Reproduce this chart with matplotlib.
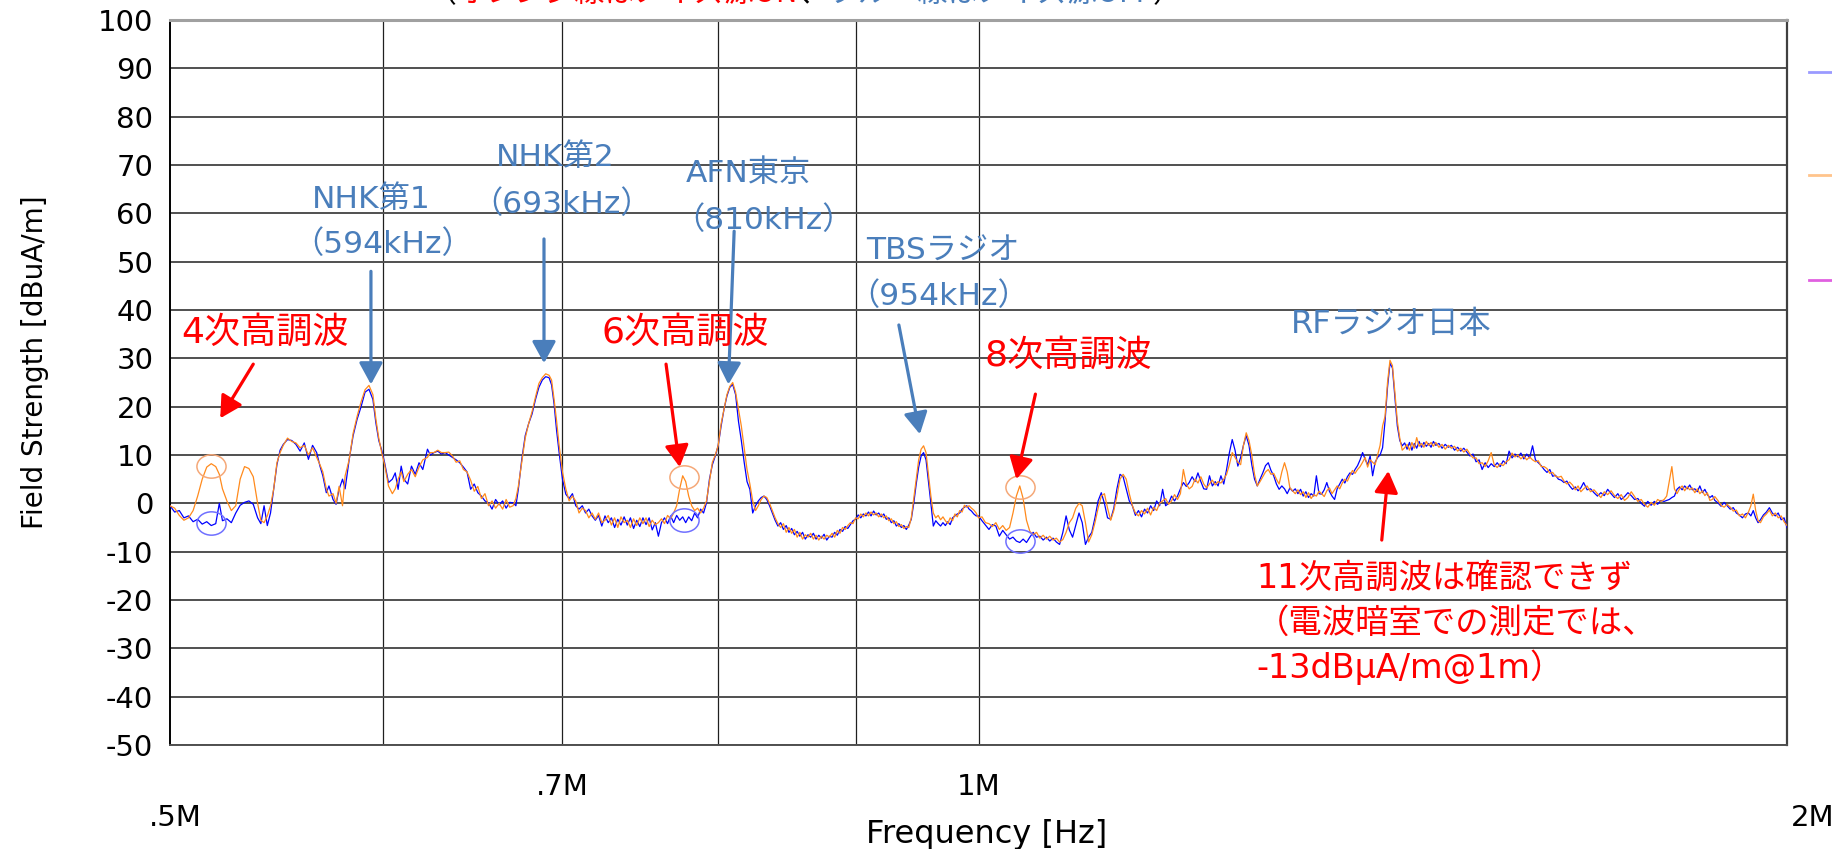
import matplotlib
matplotlib.use("Agg")
import matplotlib.pyplot as plt
from matplotlib.lines import Line2D
from matplotlib.path import Path
from matplotlib.transforms import Affine2D
from matplotlib.ticker import NullLocator

# ---------------------------------------------------------------- data
# Measured spectrum, frequency in kHz, field strength in dBuA/m
freq_khz = [
    500, 502, 504, 506, 508, 510, 512, 514, 516, 518, 520, 521.6, 523, 525, 527,
    529, 531, 533, 535, 537, 539, 540.5, 542, 543.5, 545,
    546.5, 548, 549.5, 551, 553, 555, 557, 559, 561, 563, 565, 567, 568.6, 570,
    571.7, 573, 575, 576.5, 578, 579.7, 581, 583, 585, 587, 589, 591, 593, 595,
    596.5, 598, 599.5,
    601, 603, 605, 606.5, 608, 609.6, 611, 613, 615, 617, 619, 621, 623.5, 625,
    627, 629, 631, 633, 635, 637, 639, 641, 643, 645, 647, 649, 651, 653, 655,
    657, 659, 661, 663, 665, 667, 669, 671, 672.6,
    674, 676, 678, 680, 682, 684, 686, 688, 690, 692, 693.5, 695, 696.5, 698,
    700, 702, 704, 706, 708, 710, 712, 714, 716, 718, 720, 722, 724, 726, 728,
    730, 732, 734, 736, 738, 740, 742,
    744, 746, 748, 750, 752, 754, 756, 758, 760, 762, 764, 766, 768, 770, 772,
    774, 776, 778, 780, 782, 784, 786, 788, 790, 792, 794, 796, 798, 800, 802,
    804, 806, 808, 810, 812, 814, 816, 818, 820,
    822, 824, 826, 828, 830, 832, 834, 836, 838, 840, 842, 844, 846, 848, 850,
    852, 854, 856, 858, 860, 862, 864, 866, 868, 870, 872, 874, 876, 878, 880,
    882, 884, 886, 888, 890, 892, 894, 896, 898, 900,
    902, 904, 906, 908, 910, 912, 914, 916, 918, 920, 922, 924, 926, 928, 930,
    932, 934, 936, 938, 940, 942, 944, 946, 948, 950, 952, 954, 956, 958, 960,
    962, 964, 966, 968, 970, 972, 974, 976, 978, 980, 982, 984, 986, 988, 990,
    992, 994, 996, 998, 1000,
    1003, 1006, 1009, 1012, 1015, 1018, 1021, 1024, 1027, 1030, 1033, 1036,
    1039, 1042, 1045, 1048, 1051, 1054, 1057, 1060, 1063, 1066, 1069, 1072,
    1075, 1078, 1081, 1084, 1087, 1090, 1093, 1096, 1099, 1102, 1105, 1108,
    1111, 1114, 1117, 1120, 1123, 1126, 1129, 1132, 1135, 1138, 1141, 1144,
    1147, 1150, 1153, 1156, 1159, 1162, 1165, 1168, 1171, 1174, 1177, 1180,
    1183, 1186, 1189,
    1192, 1195, 1198, 1201, 1204, 1207, 1210, 1213, 1216, 1219, 1222, 1225,
    1228, 1231, 1234, 1237, 1240, 1243, 1246, 1249, 1252, 1255, 1258, 1261,
    1264, 1267, 1270, 1273, 1276, 1279, 1282, 1285, 1288, 1291, 1294, 1297,
    1300, 1303, 1306, 1309, 1312, 1315, 1318, 1321, 1324, 1327, 1330, 1333,
    1336, 1339, 1342, 1345, 1348, 1351, 1354, 1357, 1360, 1363, 1366, 1369,
    1372, 1375, 1378, 1381, 1384, 1387, 1390, 1393, 1396, 1399, 1402, 1405,
    1408, 1411, 1414, 1417, 1420, 1423, 1426, 1429, 1432, 1435, 1438, 1441,
    1444, 1447, 1450, 1453, 1456, 1459, 1462, 1465, 1468, 1471, 1474, 1477, 1480,
    1484, 1488, 1492, 1496, 1500, 1504, 1508, 1512, 1516, 1520, 1524, 1528,
    1532, 1536, 1540, 1544, 1548, 1552, 1556, 1560, 1564, 1568, 1572, 1576,
    1580, 1584, 1588, 1592, 1596, 1600, 1604, 1608, 1612, 1616, 1620, 1624,
    1628, 1632, 1636, 1640, 1644, 1648, 1652, 1656, 1660, 1664, 1668, 1672,
    1676, 1680,
    1685, 1690, 1695, 1700, 1705, 1710, 1715, 1720, 1725, 1730, 1735, 1740,
    1745, 1750, 1755, 1760, 1765, 1770, 1775, 1780, 1785, 1790, 1795,
    1800, 1804, 1808, 1812, 1816, 1820, 1824, 1828, 1832, 1836, 1840, 1844,
    1848, 1852, 1856, 1860, 1864, 1868, 1872, 1876, 1880,
    1885, 1890, 1895, 1900, 1905, 1910, 1915, 1920, 1925, 1930, 1935, 1939,
    1943, 1947, 1951, 1955, 1960, 1965, 1970, 1975, 1980, 1985, 1990, 1995, 2000,
]

blue_dbua = [
    -0.5, -1.8, -1.5, -3.0, -2.6, -3.8, -3.3, -4.3, -3.8, -4.6, -4.2, 0.0, -3.6,
    -3.2, -4.0, -2.0, -0.4, 0.2, 0.5, -0.2, -3.0, -4.2, -0.5, -4.6, -2.0,
    3.0, 8.0, 11.0, 12.2, 13.2, 13.0, 12.2, 10.8, 12.5, 9.1, 12.0, 10.5, 7.7,
    5.7, 2.2, 3.6, 0.8, -0.2, 2.9, 5.0, 3.0, 9.0, 14.0, 17.4, 20.0, 23.0, 23.6,
    21.5, 16.7, 13.0, 11.0,
    8.4, 4.3, 5.0, 6.3, 2.9, 7.7, 5.0, 4.0, 7.7, 6.0, 8.4, 7.0, 11.2, 10.0,
    10.5, 10.8, 10.2, 10.5, 10.0, 9.5, 9.0, 8.4, 7.5, 6.5, 2.9, 4.0, 2.2, 1.5,
    0.5, 0.1, -1.2, 0.8, -0.3, 0.5, -1.0, 0.2, 0.1, -0.5,
    2.9, 9.1, 14.0, 16.5, 18.5, 21.5, 24.0, 25.5, 26.2, 26.0, 24.5, 20.5, 15.0,
    10.5, 5.0, 1.9, 1.0, 2.0, -0.5, -1.2, -0.5, -2.0, -1.2, -2.6, -3.5, -2.5,
    -4.7, -2.6, -4.0, -3.0, -5.0, -3.3, -4.5, -2.8, -4.5, -3.0,
    -5.2, -3.5, -4.8, -3.0, -4.4, -3.0, -5.5, -4.0, -6.8, -4.0, -3.0, -4.2,
    -2.6, -4.0, -2.5, -3.5, -2.8, -4.0, -2.8, -3.6, -2.0, -3.0, -1.2, -2.0, 0.1,
    5.0, 8.0, 9.8, 12.0, 16.0, 19.5, 22.2, 24.0, 24.6, 22.5, 17.0, 13.0, 8.5, 4.5,
    2.9, -2.0, -0.5, 0.5, 1.2, 1.5, 0.8, -0.5, -2.0, -3.5, -4.7, -4.0, -5.4,
    -4.6, -6.0, -5.2, -6.5, -5.8, -6.8, -6.0, -7.4, -6.5, -7.0, -6.2, -7.4,
    -6.6, -7.2, -6.4, -7.6, -6.8, -7.0, -6.0, -6.6, -5.4, -5.8, -4.8, -5.2,
    -4.4, -3.6, -3.3,
    -2.4, -3.0, -2.2, -2.6, -1.8, -2.6, -1.6, -2.4, -2.0, -2.8, -2.2, -3.3,
    -3.0, -4.0, -3.6, -4.7, -4.2, -5.0, -4.6, -5.4, -4.5, -3.3, 0.0, 4.0, 7.5,
    9.8, 10.5, 9.0, 4.5, 0.0, -4.7, -3.6, -4.2, -4.7, -4.0, -4.6, -3.8, -4.4,
    -3.0, -2.6, -2.2, -2.0, -1.2, -0.8, -0.5, -1.2, -1.6, -2.2, -2.6, -2.6,
    -3.6, -4.5, -5.4, -4.4, -4.7, -6.8, -5.6, -6.5, -7.4, -7.0, -7.8, -8.1,
    -7.4, -8.1, -7.0, -6.0, -7.0, -6.8, -7.6, -7.0, -7.8, -7.2, -8.0, -8.5,
    -6.0, -2.6, -5.5, -7.0, -4.5, -2.0, -4.0, -8.5, -7.0, -6.0, -3.0, 0.5,
    2.2, 0.0, -3.0, -3.3, -1.0, 3.0, 6.0, 5.5, 3.0, 0.5, -0.5, -2.5,
    -1.5, -2.8, -1.2, -2.0, -0.5, -1.5, 0.5, -0.5, 2.9, -0.5, 0.0, 1.5,
    0.5, 1.5, 3.0,
    4.3, 3.5, 4.3, 5.5, 4.5, 6.3, 4.5, 3.0, 2.9, 5.7, 3.6, 4.5,
    3.6, 5.7, 4.0, 7.0, 10.5, 13.2, 11.0, 7.7, 9.5, 12.0, 14.0, 12.0,
    8.0, 5.0, 3.6, 5.0, 6.3, 7.8, 8.4, 6.8, 5.7, 4.0, 2.9, 3.6,
    3.0, 2.0, 3.2, 2.5, 3.0, 2.0, 2.9, 1.5, 2.4, 1.2, 2.0, 1.5,
    5.7, 2.0, 1.9, 2.8, 4.3, 2.5, 1.5, 0.8, 3.0, 4.0, 5.0, 4.2,
    5.5, 6.3, 6.0, 7.0, 7.8, 9.0, 10.5, 9.1, 8.0, 9.8, 5.7, 8.5,
    9.5, 10.0, 11.5, 17.0, 24.0, 29.0, 28.0, 22.0, 16.0, 13.0, 11.9, 12.5,
    11.2, 12.6, 11.0, 12.4, 11.4, 12.8, 11.6, 12.6, 11.8, 12.4, 11.6, 12.8, 12.0,
    12.4, 11.4, 12.2, 11.6, 12.0, 11.0, 11.6, 10.8, 11.4, 10.6, 9.8, 10.2,
    8.6, 9.0, 7.0, 8.4, 7.4, 8.2, 7.6, 8.4, 7.6, 8.8, 8.2, 10.8,
    9.4, 10.2, 9.6, 10.4, 9.2, 10.2, 9.4, 11.9, 9.0, 8.4, 7.8, 7.0,
    6.4, 7.0, 5.6, 5.8, 5.0, 4.8, 4.3, 4.6, 3.6, 2.9, 3.4, 2.6,
    3.2, 4.3,
    2.8, 3.0, 2.2, 1.5, 2.2, 1.6, 2.9, 2.0, 1.2, 2.0, 0.8, 1.4,
    2.2, 1.6, 0.8, 1.0, 0.0, -0.6, 0.4, -0.4, 0.4, -0.2, 0.6,
    0.4, 0.6, 0.8, 1.2, 1.5, 2.9, 3.4, 2.8, 3.6, 3.0, 3.8, 2.8,
    3.0, 2.4, 3.6, 2.2, 2.9, 1.8, 1.2, 1.6, 0.6,
    0.1, -0.6, 0.2, -0.5, -1.2, -0.9, -2.0, -2.4, -3.0, -2.2, -2.0, -2.6,
    -1.5, -3.0, -4.0, -3.4, -2.4, -1.8, -0.9, -2.0, -2.6, -2.0, -3.4, -3.0, -5.0,
]

orange_dbua = [
    -0.5, -1.0, -2.5, -3.5, -3.0, -1.5, 1.5, 5.0, 7.5, 8.2, 7.6, 6.0, 3.0,
    0.5, -1.5, -0.5, 5.0, 7.6, 7.2, 5.5, 0.0, -3.5, -4.0, -2.6, -0.5,
    3.0, 8.4, 10.5, 12.0, 13.5, 12.8, 12.5, 11.5, 12.0, 10.0, 11.5, 9.5, 8.0,
    6.5, 3.0, 1.5, 2.0, 0.0, 3.5, -0.5, 5.7, 9.0, 14.5, 18.0, 21.0, 23.5, 24.4,
    22.5, 17.5, 13.5, 10.5,
    8.0, 3.6, 2.0, 3.0, 5.0, 6.5, 4.5, 6.0, 7.0, 5.5, 7.5, 9.0, 9.5, 10.5,
    10.5, 11.0, 10.5, 10.5, 10.6, 9.8, 8.5, 8.8, 7.0, 6.5, 4.8, 2.5, 3.5, 1.0,
    2.0, -0.5, 0.5, -1.0, 0.0, -1.2, 0.8, -0.8, -0.5, 1.0,
    3.5, 8.5, 13.5, 16.5, 19.0, 22.0, 24.8, 26.0, 26.8, 26.5, 25.5, 21.5, 17.0,
    12.0, 6.5, 3.0, 0.5, 1.5, 0.5, -2.0, -1.0, -1.5, -3.0, -2.0, -3.3, -2.0,
    -4.0, -3.5, -2.5, -4.5, -3.0, -5.0, -2.8, -4.0, -3.5, -5.0,
    -3.2, -4.6, -3.0, -4.2, -3.0, -4.8, -3.5, -4.4, -4.0, -3.2, -4.2, -2.5,
    -3.2, -2.0, -0.5, 3.0, 5.7, 4.5, 1.5, -0.5, -1.5, -1.0, -2.0, -1.0, 0.5,
    4.5, 8.5, 10.0, 12.0, 16.5, 19.5, 22.5, 24.2, 25.0, 23.0, 19.5, 16.0, 11.5, 7.0,
    4.0, 0.5, -1.5, -0.5, 0.8, 1.5, 1.2, 0.0, -1.5, -3.0, -4.2, -5.0, -4.2,
    -6.0, -5.0, -6.2, -5.4, -7.0, -6.0, -7.4, -6.5, -7.0, -6.2, -7.4, -6.6,
    -7.6, -6.8, -7.4, -6.6, -7.0, -6.2, -7.0, -5.6, -6.2, -5.0, -5.4, -4.6,
    -4.0, -4.2, -3.0,
    -3.2, -2.2, -2.8, -2.0, -2.6, -1.8, -2.4, -2.0, -2.8, -2.2, -3.0, -2.6,
    -3.6, -3.2, -4.2, -3.8, -4.8, -4.4, -5.2, -4.8, -5.0, -3.0, 1.0, 5.0, 9.0,
    11.2, 11.9, 10.5, 6.0, 1.5, -2.0, -3.0, -2.5, -3.4, -2.8, -3.6, -4.2, -3.0,
    -3.6, -2.2, -2.8, -1.5, -1.8, -0.4, -0.8, -0.5, -1.0, -1.4, -2.0, -3.0,
    -2.8, -4.0, -4.2, -4.8, -4.0, -5.4, -4.6, -5.6, -5.0, -2.0, 1.5, 3.6,
    1.0, -3.5, -5.8, -6.5, -6.0, -7.2, -6.6, -7.4, -6.8, -7.6, -7.2, -8.0,
    -7.5, -6.0, -4.0, -3.0, -1.0, 0.0, -0.5, -4.0, -8.0, -6.5, -4.0, -1.0,
    1.5, 2.0, -1.0, -3.5, -1.5, 1.5, 5.0, 6.0, 5.0, 2.0, -0.5, -2.0,
    -2.6, -1.5, -2.2, -1.0, -2.4, -0.8, -1.5, 0.0, 0.5, 1.0, -0.2, 0.5,
    1.8, 0.8, 2.0,
    7.0, 4.0, 3.0, 3.5, 5.0, 4.2, 5.5, 4.0, 3.2, 4.0, 4.8, 3.8,
    4.5, 4.2, 5.0, 6.0, 8.0, 10.5, 9.5, 8.5, 8.0, 12.0, 14.6, 13.0,
    10.0, 6.0, 3.6, 4.5, 5.5, 6.5, 7.0, 6.0, 6.2, 5.0, 4.0, 6.5,
    8.4, 6.5, 3.2, 2.6, 2.0, 2.8, 1.8, 2.4, 1.2, 2.2, 1.0, 1.8,
    1.5, 2.5, 2.0, 1.4, 2.6, 3.2, 2.0, 2.8, 3.6, 3.0, 4.2, 5.0,
    4.6, 5.8, 6.8, 6.2, 7.0, 7.6, 8.5, 9.5, 7.5, 9.0, 8.5, 8.0,
    10.0, 12.0, 16.0, 18.0, 25.0, 29.6, 28.5, 23.0, 17.0, 13.5, 11.0, 11.5,
    12.2, 11.0, 12.6, 11.4, 13.6, 11.8, 12.4, 11.6, 12.8, 12.0, 12.6, 11.8, 12.6,
    11.6, 12.2, 11.2, 12.0, 11.4, 11.8, 10.8, 11.4, 10.6, 11.2, 10.2, 9.4,
    9.4, 8.2, 8.4, 7.6, 8.8, 10.5, 8.0, 7.4, 8.2, 7.8, 8.6, 9.0,
    10.4, 9.6, 10.0, 9.2, 9.8, 9.0, 9.6, 9.0, 8.6, 8.8, 7.6, 7.6,
    7.2, 6.2, 6.4, 5.6, 5.4, 5.6, 4.6, 4.0, 4.4, 3.8, 2.8, 3.6,
    2.4, 3.0,
    3.6, 2.4, 2.8, 2.0, 1.2, 2.4, 1.8, 2.6, 1.6, 1.0, 1.8, 0.6,
    1.2, 2.4, 1.4, 0.4, 0.8, -0.2, -0.8, 0.2, -0.4, 0.8, 0.4,
    0.8, 1.5, 4.5, 7.6, 3.0, 2.0, 3.0, 3.6, 2.6, 3.4, 2.8, 3.2,
    2.2, 3.0, 2.0, 2.6, 1.6, 2.2, 0.6, 0.8, 1.4,
    0.6, -0.4, -0.8, -0.2, -0.8, -1.6, -1.4, -2.6, -2.2, -3.0, -1.8, -0.5,
    1.9, -1.5, -3.6, -4.0, -2.8, -2.2, -1.4, -2.6, -2.0, -3.0, -2.6, -3.8, -4.6,
]

# Harmonic checkpoints (circled): frequency, level with / without
harmonic_khz = [518, 777, 1036]
harmonic_orange = [7.8, 5.4, 3.4]
harmonic_blue = [-4.0, -3.5, -7.8]

# Axis ticks
y_ticks = list(range(-50, 101, 10))
grid_khz = [600, 700, 800, 900, 1000]
grid_labels = ["", ".7M", "", "", "1M"]

# Broadcast stations: name, frequency line, arrow tail (kHz, dB), arrow tip,
# centre of name (px), centre of frequency line (px)
stations = [
    ("NHK第1", "（594kHz）", (594, 48.0), (594, 24.6), (371, 199), (383, 244)),
    ("NHK第2", "（693kHz）", (689, 54.7), (689, 29.0), (555, 158), (562, 204)),
    ("AFN東京", "（810kHz）", (811, 56.3), (807, 24.6), (748, 173), (764, 220)),
    ("TBSラジオ", "（954kHz）", (934, 36.9), (951, 14.3), (943, 251), (939, 296)),
]
# Harmonic annotations: label, tail, tip, text centre (px)
harmonics = [
    ("4次高調波", (537, 28.8), (522, 17.6), (265, 333)),
    ("6次高調波", (765, 28.8), (774, 7.5), (685, 333)),
    ("8次高調波", (1050, 22.6), (1033, 5.0), (1068, 356)),
]

# ---------------------------------------------------------------- figure
W, H = 1832, 849
fig = plt.figure(figsize=(W / 100, H / 100), dpi=100)
fig.patch.set_facecolor("white")


def fx(px):
    return px / W


def fy(py):
    return 1 - py / H


JP = ["Noto Sans CJK JP", "DejaVu Sans"]
LAT_JP = ["DejaVu Sans", "Noto Sans CJK JP"]
BLUE_TXT = "#4a7ebb"
RED = "#ff0000"

ax = fig.add_axes([fx(170), fy(745), fx(1787) - fx(170), fy(20) - fy(745)])

hz = [f * 1e3 for f in freq_khz]
ax.plot(hz, blue_dbua, color="#0000ff", lw=0.9, zorder=3)
ax.plot(hz, orange_dbua, color="#ff8a1c", lw=0.9, zorder=4)

ax.set_xscale("log")
ax.set_xlim(500e3, 2000e3)
ax.set_ylim(-50, 100)
ax.set_yticks(y_ticks)
ax.set_yticklabels([str(v) for v in y_ticks], fontsize=21)
ax.set_xticks([k * 1e3 for k in grid_khz])
ax.set_xticklabels(grid_labels, fontsize=21)
ax.xaxis.set_minor_locator(NullLocator())
ax.tick_params(axis="y", length=0, pad=12)
ax.tick_params(axis="x", length=0, pad=20)

ax.yaxis.grid(True, color="#505050", lw=1.4)
ax.xaxis.grid(True, color="#202020", lw=0.9)
ax.set_axisbelow(True)
ax.spines["left"].set_color("#000000")
ax.spines["left"].set_linewidth(1.4)
ax.spines["top"].set_color("#a0a0a0")
ax.spines["top"].set_linewidth(2.2)
ax.spines["right"].set_color("#404040")
ax.spines["right"].set_linewidth(1.6)
ax.spines["bottom"].set_color("#505050")
ax.spines["bottom"].set_linewidth(1.4)

# Outer frequency labels on a second row
fig.text(fx(175), fy(818), ".5M", fontsize=21, ha="center", va="center")
fig.text(fx(1813), fy(818), "2M", fontsize=21, ha="center", va="center")

fig.text(fx(987), fy(834), "Frequency [Hz]", fontsize=23, ha="center", va="center")
fig.text(fx(35), fy(362), "Field Strength [dBuA/m]", fontsize=20,
         ha="center", va="center", rotation=90)

# Circles marking the harmonic positions
ellipse = Path.unit_circle().transformed(Affine2D().scale(1.25, 1.0))
h_hz = [k * 1e3 for k in harmonic_khz]
ax.plot(h_hz, harmonic_orange, ls="none", marker=ellipse, ms=21,
        mfc="none", mec="#f5a878", mew=1.1, zorder=5)
ax.plot(h_hz, harmonic_blue, ls="none", marker=ellipse, ms=21,
        mfc="none", mec="#7070ff", mew=1.1, zorder=5)

# Arrows and labels
arrow_style = "-|>,head_length=0.55,head_width=0.3"


def arrow(tail, tip, color):
    ax.annotate("", xy=(tip[0] * 1e3, tip[1]), xytext=(tail[0] * 1e3, tail[1]),
                arrowprops=dict(arrowstyle=arrow_style, color=color, lw=2.3,
                                mutation_scale=24, shrinkA=0, shrinkB=0),
                zorder=6)


for name, freq_txt, tail, tip, (nx, ny), (px_, py_) in stations:
    arrow(tail, tip, BLUE_TXT)
    fig.text(fx(nx), fy(ny), name, fontsize=22.5, family=LAT_JP,
             color=BLUE_TXT, ha="center", va="center")
    fig.text(fx(px_), fy(py_), freq_txt, fontsize=22.5, family=LAT_JP,
             color=BLUE_TXT, ha="center", va="center")

for label, tail, tip, (tx, ty) in harmonics:
    arrow(tail, tip, RED)
    fig.text(fx(tx), fy(ty), label, fontsize=26, family=LAT_JP, color=RED,
             ha="center", va="center")

fig.text(fx(1391), fy(324), "RFラジオ日本", fontsize=23, family=LAT_JP,
         color=BLUE_TXT, ha="center", va="center")

arrow((1413, -7.6), (1421, 6.7), RED)
fig.text(fx(1256), fy(578), "11次高調波は確認できず", fontsize=24,
         family=LAT_JP, color=RED, ha="left", va="center")
fig.text(fx(1256), fy(623), "（電波暗室での測定では、", fontsize=24,
         family=LAT_JP, color=RED, ha="left", va="center")
fig.text(fx(1256), fy(667), "-13dBμA/m@1m）", fontsize=24,
         family=LAT_JP, color=RED, ha="left", va="center")

# Caption line running off the top edge, pieces laid out one after another
renderer = fig.canvas.get_renderer()
caption = [("（", "black"), ("オレンジ線はノイズ源ON", RED), ("、", "black"),
           ("ブルー線はノイズ源OFF", BLUE_TXT), ("）", "black")]
cx = 426
for piece, col in caption:
    t = fig.text(fx(cx), fy(2), piece, fontsize=21.5, family=JP, color=col,
                 ha="left", va="baseline")
    cx += t.get_window_extent(renderer).width

# Series keys at the right edge
for ypx, col in [(72, "#9a9aff"), (175, "#ffc48c"), (280, "#e060e0")]:
    fig.add_artist(Line2D([fx(1809), fx(1832)], [fy(ypx), fy(ypx)],
                          color=col, lw=2.0))

fig.savefig("out.png", dpi=100, facecolor="white")
